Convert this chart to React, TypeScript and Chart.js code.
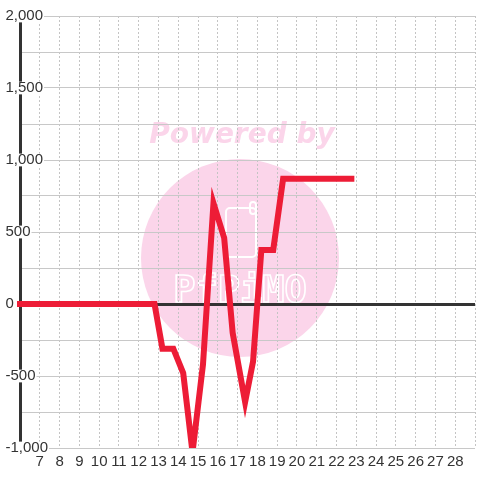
import React, { useEffect, useRef } from 'react';
import { Chart, registerables } from 'chart.js';

Chart.register(...registerables);

// ---- data ----
const timePoints = [6, 12.8, 13.2, 13.75, 14.25, 14.72, 15.25, 15.78, 16.32, 16.75, 17.38, 17.78, 18.2, 18.8, 19.3, 22.75];
const seriesValues = [0, 0, -310, -310, -480, -1030, -420, 700, 460, -200, -680, -400, 375, 375, 870, 870];
const xMin = 6;
const xMax = 29;
const yMin = -1000;
const yMax = 2000;
const yGridStep = 250;
const yLabelStep = 500;
const watermarkTitle = 'Powered by';
const watermarkLogo = 'PfPiMO';

const FONT = '"Liberation Sans", Arial, sans-serif';
const PINK = '#fbd5ea';

const watermarkPlugin = {
  id: 'watermark',
  beforeDraw(chart: any) {
    const ctx = chart.ctx as CanvasRenderingContext2D;
    ctx.save();
    ctx.fillStyle = '#ffffff';
    ctx.fillRect(0, 0, chart.width, chart.height);
    ctx.fillStyle = PINK;
    ctx.beginPath();
    ctx.arc(240, 258, 99, 0, Math.PI * 2);
    ctx.fill();
    ctx.fillStyle = PINK;
    ctx.font = 'italic bold 28px "DejaVu Sans"';
    ctx.textAlign = 'center';
    ctx.textBaseline = 'alphabetic';
    ctx.fillText(watermarkTitle, 242, 143);
    ctx.strokeStyle = '#ffffff';
    ctx.lineWidth = 2;
    ctx.beginPath();
    (ctx as any).roundRect(226, 208, 30, 49, 4);
    ctx.stroke();
    ctx.beginPath();
    (ctx as any).roundRect(250, 202, 6, 12, 3);
    ctx.stroke();
    ctx.font = 'bold 37px "DejaVu Sans Mono"';
    ctx.lineWidth = 1.6;
    ctx.strokeText(watermarkLogo, 240, 302);
    ctx.restore();
  },
};

export default function App() {
  const canvasRef = useRef<HTMLCanvasElement | null>(null);

  useEffect(() => {
    if (!canvasRef.current) return;
    const points = timePoints.map((x, i) => ({ x, y: seriesValues[i] }));
    const chart = new Chart(canvasRef.current, {
      type: 'line',
      data: {
        datasets: [
          {
            data: points,
            borderColor: '#ed1c36',
            borderWidth: 6,
            borderCapStyle: 'square',
            borderJoinStyle: 'miter',
            pointRadius: 0,
            tension: 0,
            fill: false,
            clip: { left: 3, right: 3, top: 3, bottom: 0 } as any,
          },
        ],
      },
      options: {
        responsive: false,
        animation: false,
        layout: { padding: { top: 16, left: 0, right: 0, bottom: 0 } },
        plugins: { legend: { display: false }, tooltip: { enabled: false } },
        scales: {
          x: {
            type: 'linear',
            min: xMin,
            max: xMax,
            afterFit: (s: any) => {
              s.height = 32;
            },
            ticks: {
              stepSize: 1,
              autoSkip: false,
              maxRotation: 0,
              padding: 5,
              color: '#333333',
              font: { family: FONT, size: 15 },
              callback: (v: any) => (v === xMin || v === xMax ? '' : String(v)),
            },
            grid: {
              drawTicks: false,
              color: (c: any) => (c.tick && c.tick.value === xMin ? 'rgba(0,0,0,0)' : '#c4c4c4'),
              lineWidth: 1,
            },
            border: { display: false, dash: [2, 2] },
          },
          y: {
            type: 'linear',
            min: yMin,
            max: yMax,
            afterFit: (s: any) => {
              s.width = 20;
            },
            ticks: {
              stepSize: yGridStep,
              autoSkip: false,
              mirror: true,
              padding: -14.5,
              color: '#333333',
              font: { family: FONT, size: 15, lineHeight: 0.85 },
              showLabelBackdrop: true,
              backdropColor: '#ffffff',
              backdropPadding: { top: 0, bottom: 0, left: 1, right: 1 },
              z: 1,
              callback: (v: any) => (v % yLabelStep === 0 ? Number(v).toLocaleString('en-US') : ''),
            } as any,
            grid: {
              drawTicks: false,
              color: (c: any) => (c.tick && c.tick.value === 0 ? '#333333' : '#c8c8c8'),
              lineWidth: (c: any) => (c.tick && c.tick.value === 0 ? 3 : 1),
            },
            border: { display: true, color: '#333333', width: 3 },
          },
        },
      },
      plugins: [watermarkPlugin],
    } as any);
    return () => chart.destroy();
  }, []);

  return (
    <div style={{ position: 'absolute', left: 0, top: 0, width: 480, height: 480 }}>
      <canvas ref={canvasRef} width={480} height={480} style={{ display: 'block' }} />
    </div>
  );
}
